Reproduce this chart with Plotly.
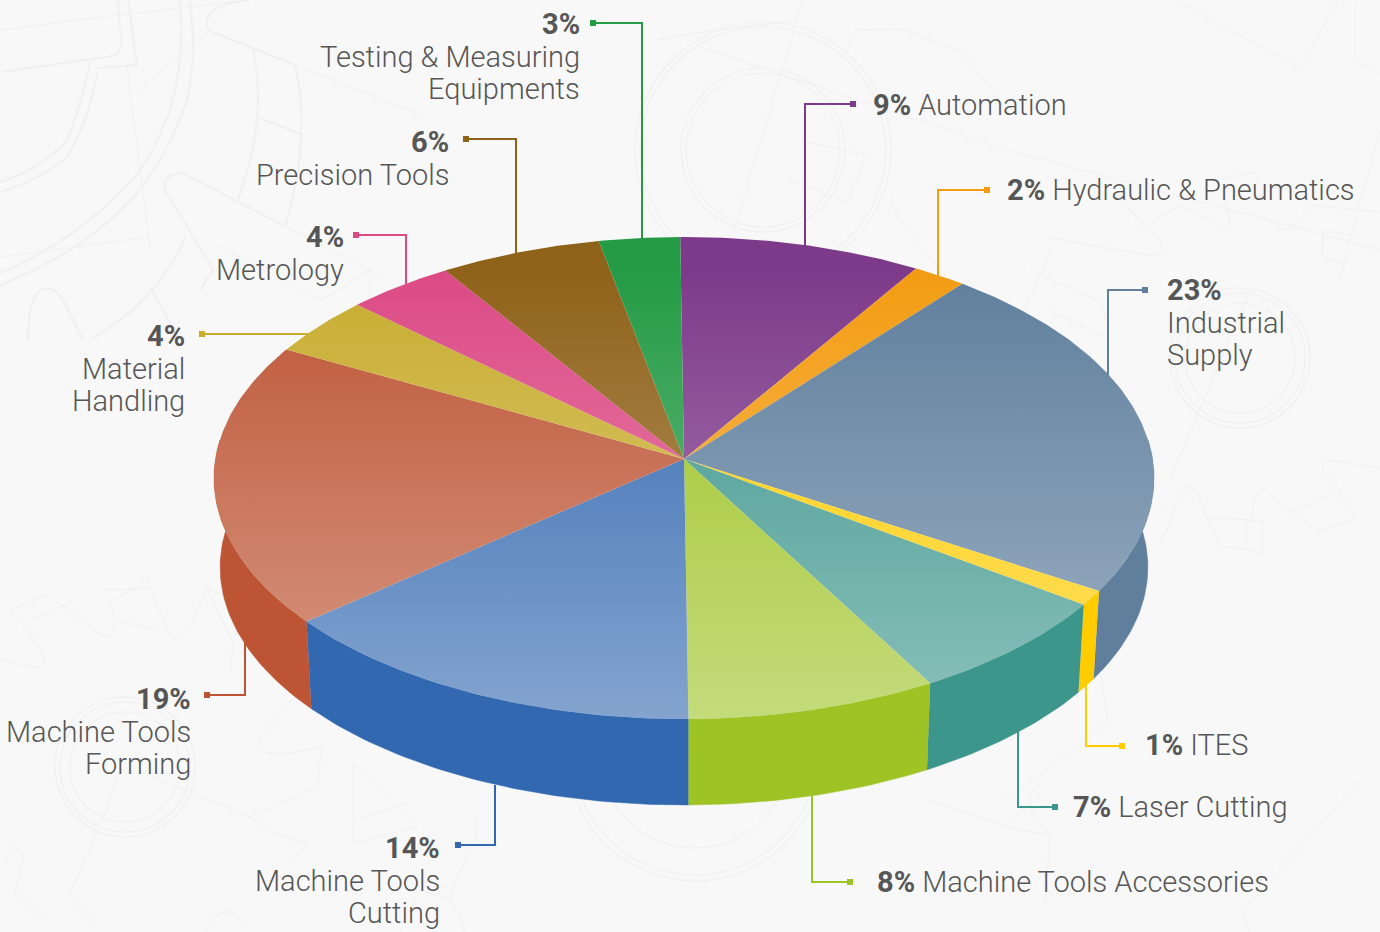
import numpy as np
import plotly.graph_objects as go

categories = ["Automation", "Hydraulic & Pneumatics", "Industrial Supply", "ITES", "Laser Cutting",
              "Machine Tools Accessories", "Machine Tools Cutting", "Machine Tools Forming",
              "Material Handling", "Metrology", "Precision Tools", "Testing & Measuring Equipments"]
shares = [9, 2, 23, 1, 7, 8, 14, 19, 4, 4, 6, 3]
colors = ["#7e3a8a", "#f39c12", "#5f7f9d", "#ffcc00", "#3d968c", "#9dc324",
          "#3268b0", "#bd5535", "#c8ad30", "#dc4a85", "#8f6219", "#259b46"]

# label layout: (lines, anchor, x, y of first line)
label_lines = [
    (["<b>9%</b> Automation"], "left", 872, 105),
    (["<b>2%</b> Hydraulic &amp; Pneumatics"], "left", 1006, 190),
    (["<b>23%</b>", "Industrial", "Supply"], "left", 1166, 290),
    (["<b>1%</b> ITES"], "left", 1144, 745),
    (["<b>7%</b> Laser Cutting"], "left", 1072, 807),
    (["<b>8%</b> Machine Tools Accessories"], "left", 876, 882),
    (["<b>14%</b>", "Machine Tools", "Cutting"], "right", 441, 848),
    (["<b>19%</b>", "Machine Tools", "Forming"], "right", 192, 699),
    (["<b>4%</b>", "Material", "Handling"], "right", 186, 336),
    (["<b>4%</b>", "Metrology"], "right", 345, 237),
    (["<b>6%</b>", "Precision Tools"], "right", 450, 142),
    (["<b>3%</b>", "Testing &amp; Measuring", "Equipments"], "right", 581, 24),
]
leaders = [
    ([853, 805, 805], [104, 104, 250]),
    ([987, 938, 938], [190, 190, 280]),
    ([1145, 1108, 1108], [290, 290, 385]),
    ([1122, 1086, 1086], [746, 746, 680]),
    ([1055, 1018, 1018], [807, 807, 725]),
    ([850, 812, 812], [882, 882, 790]),
    ([458, 495, 495], [845, 845, 785]),
    ([207, 245, 245], [695, 695, 630]),
    ([202, 310, 310], [334, 334, 334]),
    ([356, 406, 406], [235, 235, 285]),
    ([466, 516, 516], [139, 139, 255]),
    ([593, 642, 642], [23, 23, 240]),
]

TEXT = "#565656"
BG = "#f8f8f8"
WM = "#f0f0f0"

CX, CY, A, B, K = 684.0, 459.0, 239.5, 468.5, -0.0788
BX, BY, S = 684.0, 548.4, 0.987
START = np.radians(-0.5)
# the part of the rim that faces the viewer: only this has a visible side wall
FRONT_FROM, FRONT_TO = np.radians(85.5), np.radians(274.5)


def mix(hex_c, a):
    r, g, b = [int(hex_c[i:i + 2], 16) for i in (1, 3, 5)]
    return "rgb(%d,%d,%d)" % (r + (255 - r) * a, g + (255 - g) * a, b + (255 - b) * a)


def rim(t, x0, y0, s):
    u, v = np.sin(t), -np.cos(t)
    d = 1 + K * v
    return x0 + s * B * u / d, y0 + s * A * v / d


fig = go.Figure()

for (lx, ly), c in zip(leaders, colors):
    fig.add_trace(go.Scatter(x=lx, y=ly, mode="lines", line=dict(color=c, width=2), hoverinfo="skip"))
    fig.add_trace(go.Scatter(x=lx[:1], y=ly[:1], mode="markers",
                             marker=dict(symbol="square", size=6, color=c), hoverinfo="skip"))

cum = np.cumsum([0] + shares) / sum(shares) * 2 * np.pi + START
arcs = [np.linspace(cum[i], cum[i + 1], max(4, int(shares[i] * 6))) for i in range(len(shares))]

for i, c in enumerate(colors):
    lo, hi = max(cum[i], FRONT_FROM), min(cum[i + 1], FRONT_TO)
    if hi <= lo:
        continue
    t = np.linspace(lo, hi, max(4, int(np.degrees(hi - lo))))
    x1, y1 = rim(t, CX, CY, 1)
    x2, y2 = rim(t, BX, BY, S)
    fig.add_trace(go.Scatter(x=np.r_[x1, x2[::-1]], y=np.r_[y1, y2[::-1]], mode="lines", fill="toself",
                             line=dict(width=0.5, color=c), fillcolor=c, hoverinfo="skip"))

for t, c in zip(arcs, colors):
    x1, y1 = rim(t, CX, CY, 1)
    fig.add_trace(go.Scatter(x=np.r_[CX, x1, CX], y=np.r_[CY, y1, CY], mode="lines", fill="toself",
                             line=dict(width=0),
                             fillgradient=dict(type="vertical", start=270, stop=719,
                                               colorscale=[[0, mix(c, 0)], [1, mix(c, 0.4)]]),
                             hoverinfo="skip"))

annotations = []
for lines, anchor, x, y in label_lines:
    for i, ln in enumerate(lines):
        annotations.append(dict(x=x, y=y + i * 32.7, xref="x", yref="y", text=ln, showarrow=False,
                                xanchor=anchor, yanchor="middle", borderpad=0,
                                font=dict(family="Roboto", size=29, color=TEXT, weight=300)))


def circ(cx, cy, r, w=1.2):
    return dict(type="circle", xref="x", yref="y", x0=cx - r, x1=cx + r, y0=cy - r, y1=cy + r,
                line=dict(color=WM, width=w), layer="below")


def path(d, w=1.2):
    return dict(type="path", xref="x", yref="y", path=d, line=dict(color=WM, width=w), layer="below")


shapes = [circ(763, 150, r) for r in (123, 128, 77, 82)]
shapes += [circ(1240, 358, r) for r in (55, 65, 70)]
shapes += [circ(125, 767, r) for r in (55, 65, 70)]
shapes += [circ(695, 753, r) for r in (95, 122, 128)]
shapes += [path(d, 2) for d in [
    "M 190 0 Q 197 60 187 100 Q 170 150 142 187 Q 90 250 0 285",
    "M 180 0 Q 185 60 170 110 Q 155 150 138 173 Q 80 240 0 273",
    "M 98 72 Q 85 130 67 157 Q 40 180 0 192", "M 90 62 Q 80 110 67 140 Q 40 170 0 182",
    "M 3 72 L 112 56 Q 125 52 120 30 L 118 0", "M 98 68 L 137 65 L 128 0",
    "M 253 48 Q 268 120 238 200", "M 295 65 Q 312 135 285 227", "M 257 117 L 303 135",
    "M 250 0 Q 212 3 207 20 Q 205 30 215 33 L 295 65",
    "M 182 173 Q 160 175 165 190 L 213 270 L 200 290",
    "M 182 173 L 287 227", "M 187 233 Q 160 300 90 340", "M 150 287 L 180 340",
    "M 28 340 Q 28 290 47 288 Q 58 290 63 300 L 83 340",
]]
shapes += [path(d, 1) for d in [
    "M 0 30 L 117 15 L 250 0", "M 127 67 L 150 247", "M 0 257 L 148 237", "M 133 95 L 210 30",
    "M 295 65 L 420 115", "M 287 227 L 387 280", "M 220 247 L 322 300 L 370 270 L 370 300",
    "M 700 47 L 1000 148 L 1380 250", "M 803 0 L 733 233", "M 657 40 Q 720 28 790 22",
    "M 852 47 Q 845 40 855 30 L 900 29 L 960 50 L 1000 100",
    "M 798 140 L 865 155 L 848 203 L 787 178", "M 893 197 Q 890 205 903 223 L 940 270",
    "M 1175 0 L 1298 67", "M 1338 0 L 1298 72", "M 1355 5 L 1355 60 L 1380 75",
    "M 1380 130 L 1350 240 L 1340 280", "M 1323 230 L 1358 237 L 1345 265 L 1322 255 Z",
    "M 1050 238 L 1148 255 Q 1165 258 1160 240 L 1125 205 L 1145 230",
    "M 1148 225 L 1180 205 L 1220 225 Q 1228 235 1230 220 L 1218 180 L 1255 172 L 1262 190",
    "M 1262 212 Q 1285 240 1295 225 L 1310 205 L 1380 212",
    "M 1030 270 L 1100 302 L 1110 330", "M 1050 250 L 1025 310", "M 1250 290 L 1170 480",
    "M 1048 310 L 1110 340", "M 1060 340 L 1100 365",
    "M 1160 543 L 1175 510 Q 1188 470 1200 500 L 1220 547 L 1246 549", "M 1210 518 L 1253 520",
    "M 1246 522 L 1262 520 L 1262 555 L 1246 549 Z",
    "M 1253 520 L 1253 500 Q 1262 480 1275 500 L 1320 532", "M 1293 512 L 1335 492",
    "M 1320 532 L 1357 518 L 1337 490", "M 1340 490 L 1323 470 Q 1320 458 1335 461 L 1380 468",
    "M 1358 782 L 1243 911 L 1250 932", "M 1100 668 L 1108 722 L 1040 775 L 1000 800",
    "M 1160 505 L 1175 520 L 1160 540", "M 1047 790 L 1010 820",
    "M 10 610 L 48 595 L 100 635 Q 115 640 115 623 L 110 603 L 147 580 L 167 630 Q 177 648 190 627 L 207 588 L 233 643 L 230 673",
    "M 10 610 L 33 638 L 45 657 Q 45 668 33 667 L 0 660", "M 33 620 L 73 600",
    "M 105 590 L 150 588", "M 115 620 L 157 630", "M 207 588 L 233 600",
    "M 245 637 L 297 693 L 260 740 Q 258 752 270 753 L 290 753 L 322 747 L 317 787 L 250 817",
    "M 143 773 L 250 817 L 273 833 L 307 845 L 287 867", "M 120 773 L 97 833 L 70 893",
    "M 353 763 L 417 827 L 353 843 L 353 763", "M 353 820 L 407 803",
    "M 13 847 Q 25 850 23 860 L 15 893 L 45 920", "M 0 867 L 13 847",
    "M 68 893 L 97 927", "M 205 932 Q 225 895 245 925", "M 400 932 L 420 890 L 450 900",
    "M 475 815 Q 480 835 470 850 L 450 895 L 465 932",
    "M 925 800 L 1020 830 L 1050 835 L 1045 900", "M 1050 835 Q 1015 800 1040 785",
]]

fig.update_layout(
    width=1380, height=932, margin=dict(l=0, r=0, t=0, b=0), showlegend=False,
    paper_bgcolor=BG, plot_bgcolor=BG, annotations=annotations, shapes=shapes,
    xaxis=dict(range=[0, 1380], visible=False, fixedrange=True),
    yaxis=dict(range=[932, 0], visible=False, fixedrange=True),
)
fig.write_html("out.html", config={"displayModeBar": False},
               post_script="document.body.style.margin='0';document.body.style.background='%s';" % BG)
